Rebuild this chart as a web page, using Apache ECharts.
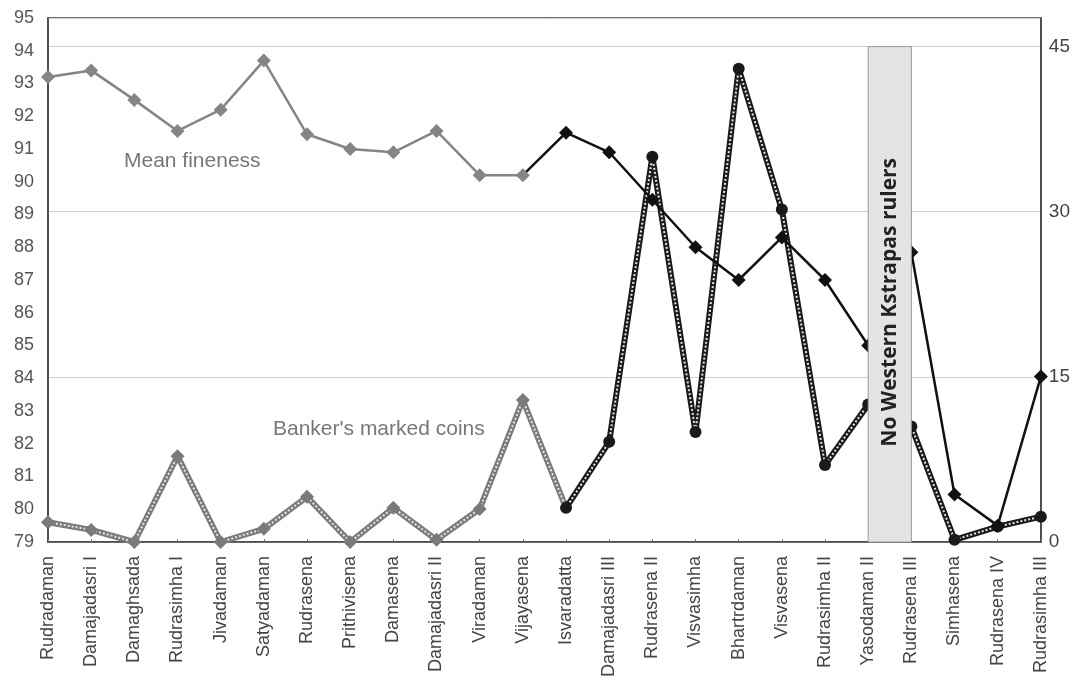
<!DOCTYPE html>
<html lang="en">
<head>
    <meta charset="UTF-8">
    <title>Mean fineness and banker's marked coins</title>
    <script src="https://cdn.jsdelivr.net/npm/echarts@6/dist/echarts.min.js"></script>
    <style>
        html, body { margin: 0; padding: 0; background: #fff; }
    </style>
</head>
<body>
<div id="main" style="width: 1073px;height:695px;"></div>

<script>
    // rulers, in order
    let rulers = ['Rudradaman', 'Damajadasri I', 'Damaghsada', 'Rudrasimha I', 'Jivadaman', 'Satyadaman',
        'Rudrasena', 'Prithivisena', 'Damasena', 'Damajadasri II', 'Viradaman', 'Vijayasena',
        'Isvaradatta', 'Damajadasri III', 'Rudrasena II', 'Visvasimha', 'Bhartrdaman', 'Visvasena',
        'Rudrasimha II', 'Yasodaman II', 'Rudrasena III', 'Simhasena', 'Rudrasena IV', 'Rudrasimha III'];

    // left axis
    let meanFineness = [93.2, 93.4, 92.5, 91.55, 92.2, 93.7, 91.45, 91.0, 90.9, 91.55, 90.2, 90.2,
        91.5, 90.9, 89.45, 88.0, 87.0, 88.3, 87.0, 85.0, 87.85, 80.45, 79.5, 84.05];

    // right axis
    let bankerMarked = [1.8, 1.1, 0, 7.8, 0, 1.2, 4.1, 0, 3.1, 0.2, 3.0, 12.9,
        3.1, 9.1, 35.0, 10.0, 43.0, 30.2, 7.0, 12.5, 10.5, 0.2, 1.4, 2.3];

    let leftTicks = {min: 79, max: 95, interval: 1};
    let rightTicks = {min: 0, max: 47.6, interval: 15};

    // gap: from category index to index, up to right-axis value
    let gapBand = [[19, 20, 45]];
    let gapText = 'No Western Kstrapas rulers';

    let myChart = echarts.init(document.getElementById('main'));

    let font = '"Liberation Sans", Arial, sans-serif';
    let last = rulers.length;

    let option = {
        animation: false,
        grid: {
            left: 48, right: 32, top: 18, bottom: 153,
            show: true, borderColor: '#444', borderWidth: 1.5
        },
        xAxis: {
            type: 'category',
            data: rulers,
            boundaryGap: false,
            axisLine: {lineStyle: {color: '#444', width: 1.5}},
            axisTick: {show: true, inside: true, length: 3, lineStyle: {color: '#777'}},
            axisLabel: {
                rotate: 90, interval: 0, margin: 14,
                fontFamily: font, fontSize: 18, color: '#444'
            }
        },
        yAxis: [{
            type: 'value',
            min: leftTicks.min, max: leftTicks.max, interval: leftTicks.interval,
            axisLine: {show: true, lineStyle: {color: '#444', width: 1.5}},
            axisTick: {show: false},
            splitLine: {show: false},
            axisLabel: {fontFamily: font, fontSize: 18, color: '#555', margin: 14}
        }, {
            type: 'value',
            min: rightTicks.min, max: rightTicks.max, interval: rightTicks.interval,
            axisLine: {show: true, lineStyle: {color: '#444', width: 1.5}},
            axisTick: {show: false},
            splitLine: {show: true, lineStyle: {color: '#d0d0d0', width: 1}},
            axisLabel: {
                fontFamily: font, fontSize: 19, color: '#444', margin: 8,
                formatter: v => (v % 15 === 0 ? v : '')
            }
        }],
        visualMap: [{
            type: 'piecewise', show: false, seriesIndex: 0, dimension: 0,
            pieces: [{gte: -1, lte: 11, color: '#858585'}, {gt: 11, lte: last, color: '#111'}]
        }, {
            type: 'piecewise', show: false, seriesIndex: 1, dimension: 0,
            pieces: [{gte: -1, lte: 11.9, color: '#7a7a7a'}, {gt: 11.9, lte: last, color: '#1a1a1a'}]
        }],
        graphic: [{
            type: 'text', left: 124, top: 151,
            style: {text: 'Mean fineness', fontFamily: font, fontSize: 21, fill: '#777'}
        }, {
            type: 'text', left: 273, top: 419,
            style: {text: "Banker's marked coins", fontFamily: font, fontSize: 21, fill: '#777'}
        }],
        series: [{
            name: 'Mean fineness',
            type: 'line',
            yAxisIndex: 0,
            data: meanFineness,
            symbol: 'diamond',
            symbolSize: 14,
            lineStyle: {width: 2.5},
            z: 3
        }, {
            name: "Banker's marked coins",
            type: 'line',
            yAxisIndex: 1,
            data: bankerMarked,
            symbol: (v, p) => (p.dataIndex >= 12 ? 'circle' : 'diamond'),
            symbolSize: (v, p) => (p.dataIndex >= 12 ? 12 : 14),
            lineStyle: {width: 6},
            z: 2
        }, {
            // inner dotted stripe gives the hatched look
            name: 'hatch',
            type: 'line',
            yAxisIndex: 1,
            data: bankerMarked,
            symbol: 'none',
            silent: true,
            lineStyle: {width: 2, color: '#e6e6e6', type: [2, 2]},
            z: 2
        }, {
            name: 'gap',
            type: 'custom',
            yAxisIndex: 1,
            data: gapBand,
            z: 10,
            silent: true,
            renderItem: function (params, api) {
                let p0 = api.coord([api.value(0), 0]);
                let p1 = api.coord([api.value(1), api.value(2)]);
                let cx = (p0[0] + p1[0]) / 2;
                let cy = (p0[1] + p1[1]) / 2 + 8;
                return {
                    type: 'group',
                    children: [{
                        type: 'rect',
                        shape: {x: p0[0], y: p1[1], width: p1[0] - p0[0], height: p0[1] - p1[1]},
                        style: {fill: '#e4e4e4', stroke: '#9a9a9a', lineWidth: 1}
                    }, {
                        type: 'text',
                        x: cx, y: cy,
                        rotation: Math.PI / 2,
                        style: {
                            text: gapText,
                            fontFamily: '"Open Sans", "Noto Sans", sans-serif',
                            fontWeight: 'bold',
                            fontSize: 21,
                            fill: '#222',
                            align: 'center',
                            verticalAlign: 'middle'
                        }
                    }]
                };
            }
        }]
    };
    myChart.setOption(option);
</script>
</body>
</html>
